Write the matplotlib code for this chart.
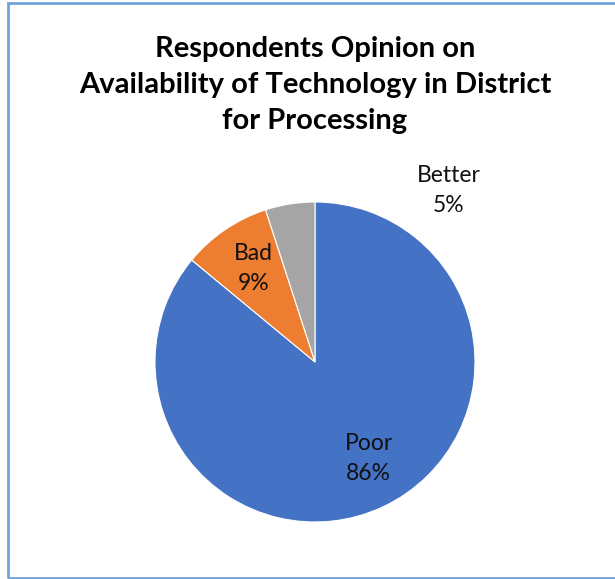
import numpy as np
import matplotlib.pyplot as plt
from matplotlib.patches import Rectangle

categories = ['Poor', 'Bad', 'Better']
shares = [86, 9, 5]
colors = ['#4472C4', '#ED7D31', '#A5A5A5']
title = 'Respondents Opinion on\nAvailability of Technology in District\nfor Processing'

plt.rcParams['font.family'] = ['Lato', 'DejaVu Sans']

fig = plt.figure(figsize=(6.15, 5.79), dpi=100)

# chart border
fig.patches.append(Rectangle((8 / 615, 1 / 579), 1 - 8 / 615 + 0.01, 1 - 4 / 579,
                             transform=fig.transFigure, fill=False,
                             edgecolor='#6FA3DA', linewidth=2))

fig.text(315 / 615, 1 - 85 / 579, title, ha='center', va='center',
         fontsize=21, fontweight='bold', linespacing=1.5)

ax = fig.add_axes([155 / 615, 57 / 579, 320 / 615, 320 / 579])
wedges, _ = ax.pie(shares, colors=colors, startangle=90, counterclock=False,
                   wedgeprops=dict(edgecolor='white', linewidth=0.8))
ax.set_xlim(-1, 1)
ax.set_ylim(-1, 1)
ax.set_aspect('equal')

# label positions (radius, angle offset) per slice; "Better" moved outside
label_r = [0.69, 0.70, 1.36]
label_shift = [4, -1, -47]
for w, name, v, r, sh in zip(wedges, categories, shares, label_r, label_shift):
    ang = np.deg2rad((w.theta1 + w.theta2) / 2 + sh)
    ax.text(r * np.cos(ang), r * np.sin(ang), f'{name}\n{v}%',
            ha='center', va='center', fontsize=16.5, linespacing=1.55,
            color='#111111')

fig.savefig('out.png', dpi=100)
